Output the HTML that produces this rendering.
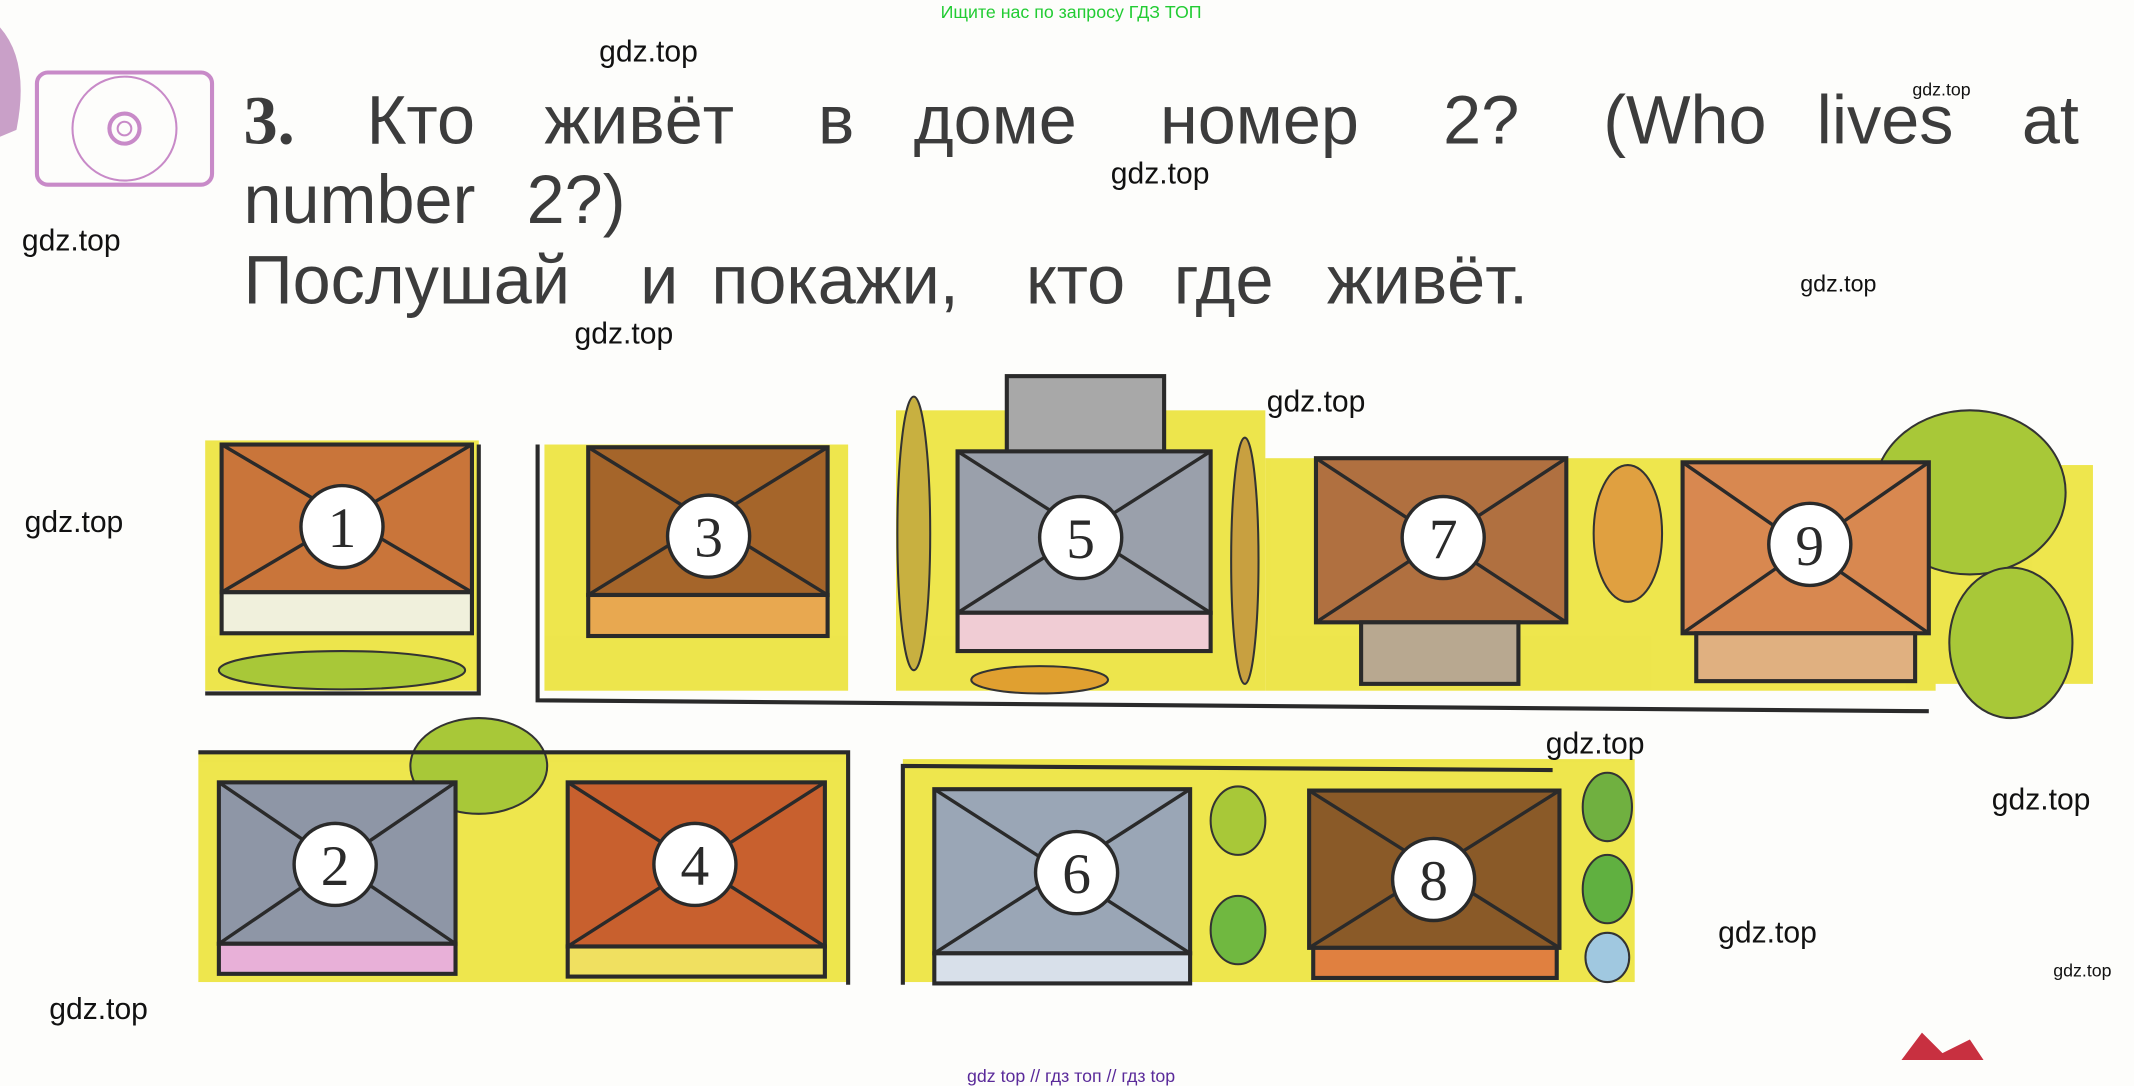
<!DOCTYPE html>
<html><head><meta charset="utf-8"><style>
html,body{margin:0;padding:0;background:#fff;}
svg{display:block}
.s{font-family:"Liberation Sans",sans-serif}
.r{font-family:"Liberation Serif",serif}
</style></head><body>
<svg width="2134" height="1086" viewBox="0 0 1560 794" preserveAspectRatio="none" xmlns="http://www.w3.org/2000/svg">
<rect width="1560" height="794" fill="#fdfdfb"/>
<text class="s" x="783" y="13" font-size="13" fill="#22cc33" text-anchor="middle">Ищите нас по запросу ГДЗ ТОП</text>
<path d="M0 20 Q22 45 12 95 L0 100 Z" fill="#c9a0c8"/>
<rect x="27" y="53" width="128" height="82" rx="8" fill="none" stroke="#c88ac8" stroke-width="3"/>
<circle cx="91" cy="94" r="38" fill="none" stroke="#c88ac8" stroke-width="1.5"/>
<circle cx="91" cy="94" r="11" fill="none" stroke="#c88ac8" stroke-width="3"/>
<circle cx="91" cy="94" r="5" fill="none" stroke="#c88ac8" stroke-width="1.5"/>
<g class="s" fill="#3c3c3c" font-size="50">
<text class="r" x="178" y="105" font-weight="bold">3.</text>
<text class="s" x="268" y="105">Кто</text><text class="s" x="398" y="105">живёт</text><text class="s" x="598" y="105">в</text>
<text class="s" x="668" y="105">доме</text><text class="s" x="848" y="105">номер</text><text class="s" x="1055" y="105">2?</text>
<text class="s" x="1172" y="105">(Who</text><text class="s" x="1328" y="105">lives</text><text class="s" x="1478" y="105">at</text>
<text class="s" x="178" y="163">number</text><text class="s" x="385" y="163">2?)</text>
<text class="s" x="178" y="222">Послушай</text><text class="s" x="468" y="222">и</text><text class="s" x="520" y="222">покажи,</text>
<text class="s" x="750" y="222">кто</text><text class="s" x="858" y="222">где</text><text class="s" x="970" y="222">живёт.</text>
</g>
<g fill="#ece33a" opacity="0.9">
<rect x="150" y="322" width="200" height="183"/>
<rect x="398" y="325" width="222" height="180"/>
<rect x="655" y="300" width="270" height="205"/>
<rect x="925" y="335" width="490" height="170"/>
<rect x="1410" y="340" width="120" height="160"/>
<rect x="145" y="550" width="475" height="168"/>
<rect x="660" y="555" width="535" height="163"/>
</g>
<g fill="#a8c838" stroke="#333" stroke-width="1.5">
<ellipse cx="350" cy="560" rx="50" ry="35"/>
<ellipse cx="668" cy="390" rx="12" ry="100" fill="#c8b040"/>
<ellipse cx="910" cy="410" rx="10" ry="90" fill="#c8a040"/>
<ellipse cx="1190" cy="390" rx="25" ry="50" fill="#e0a040"/>
<ellipse cx="1440" cy="360" rx="70" ry="60"/>
<ellipse cx="1470" cy="470" rx="45" ry="55"/>
<ellipse cx="905" cy="600" rx="20" ry="25"/>
<ellipse cx="905" cy="680" rx="20" ry="25" fill="#70b840"/>
<ellipse cx="1175" cy="590" rx="18" ry="25" fill="#70b040"/>
<ellipse cx="1175" cy="650" rx="18" ry="25" fill="#60b040"/>
<ellipse cx="1175" cy="700" rx="16" ry="18" fill="#a0c8e0"/>
<ellipse cx="250" cy="490" rx="90" ry="14"/>
<ellipse cx="760" cy="497" rx="50" ry="10" fill="#e0a030"/>
</g>
<g stroke="#2a2a2a" stroke-width="3">
<rect x="736" y="275" width="115" height="60" fill="#a8a8a8"/>
<rect x="162" y="325" width="183" height="108" fill="#c9753a"/><rect x="162" y="433" width="183" height="30" fill="#f0f0dc"/>
<rect x="430" y="327" width="175" height="108" fill="#a5652a"/><rect x="430" y="435" width="175" height="30" fill="#e8a850"/>
<rect x="700" y="330" width="185" height="118" fill="#9aa0ab"/><rect x="700" y="448" width="185" height="28" fill="#f0ccd4"/>
<rect x="962" y="335" width="183" height="120" fill="#b07040"/><rect x="995" y="455" width="115" height="45" fill="#b8a890"/>
<rect x="1230" y="338" width="180" height="125" fill="#d88850"/><rect x="1240" y="463" width="160" height="35" fill="#e0b080"/>
<rect x="160" y="572" width="173" height="118" fill="#8e96a6"/><rect x="160" y="690" width="173" height="22" fill="#e8b0d8"/>
<rect x="415" y="572" width="188" height="120" fill="#c8602e"/><rect x="415" y="692" width="188" height="22" fill="#f0e060"/>
<rect x="683" y="577" width="187" height="120" fill="#9aa6b6"/><rect x="683" y="697" width="187" height="22" fill="#d8e0ea"/>
<rect x="957" y="578" width="183" height="115" fill="#8a5a28"/><rect x="960" y="693" width="178" height="22" fill="#e08040"/>
</g>
<g stroke="#2a2a2a" stroke-width="2.5">
<path d="M162 325 L345 433 M345 325 L162 433"/>
<path d="M430 327 L605 435 M605 327 L430 435"/>
<path d="M700 330 L885 448 M885 330 L700 448"/>
<path d="M962 335 L1145 455 M1145 335 L962 455"/>
<path d="M1230 338 L1410 463 M1410 338 L1230 463"/>
<path d="M160 572 L333 690 M333 572 L160 690"/>
<path d="M415 572 L603 692 M603 572 L415 692"/>
<path d="M683 577 L870 697 M870 577 L683 697"/>
<path d="M957 578 L1140 693 M1140 578 L957 693"/>
</g>
<g stroke="#2a2a2a" stroke-width="3" fill="none">
<path d="M150 507 L350 507 L350 325"/>
<path d="M393 325 L393 512 L1410 520"/>
<path d="M145 550 L620 550 L620 720"/>
<path d="M660 720 L660 560 L1135 563"/>
</g>
<g fill="#fff" stroke="#2a2a2a" stroke-width="2.5">
<circle cx="250" cy="385" r="30"/><circle cx="518" cy="392" r="30"/><circle cx="790" cy="393" r="30"/>
<circle cx="1055" cy="393" r="30"/><circle cx="1323" cy="398" r="30"/><circle cx="245" cy="632" r="30"/>
<circle cx="508" cy="632" r="30"/><circle cx="787" cy="638" r="30"/><circle cx="1048" cy="643" r="30"/>
</g>
<g class="r" font-size="42" fill="#2a2a2a" text-anchor="middle">
<text class="r" x="250" y="400">1</text><text class="r" x="518" y="407">3</text><text class="r" x="790" y="408">5</text>
<text class="r" x="1055" y="408">7</text><text class="r" x="1323" y="413">9</text><text class="r" x="245" y="647">2</text>
<text class="r" x="508" y="647">4</text><text class="r" x="787" y="653">6</text><text class="r" x="1048" y="658">8</text>
</g>
<path d="M1390 775 L1405 755 L1420 770 L1440 760 L1450 775 Z" fill="#c83040"/>
<g class="s" font-size="22" fill="#111">
<text class="s" x="438" y="45">gdz.top</text><text class="s" x="812" y="134">gdz.top</text><text class="s" x="16" y="183">gdz.top</text>
<text class="s" x="420" y="251">gdz.top</text><text class="s" x="926" y="301">gdz.top</text><text class="s" x="18" y="389">gdz.top</text>
<text class="s" x="1130" y="551">gdz.top</text><text class="s" x="1456" y="592">gdz.top</text><text class="s" x="1256" y="689">gdz.top</text>
<text class="s" x="36" y="745">gdz.top</text>
</g>
<text class="s" x="1316" y="213" font-size="17" fill="#111">gdz.top</text>
<text class="s" x="1398" y="70" font-size="13" fill="#111">gdz.top</text>
<text class="s" x="1501" y="714" font-size="13" fill="#111">gdz.top</text>
<text class="s" x="783" y="791" font-size="13" fill="#5a2a9a" text-anchor="middle">gdz top  //  гдз топ  //  гдз top</text>
</svg>
</body></html>
